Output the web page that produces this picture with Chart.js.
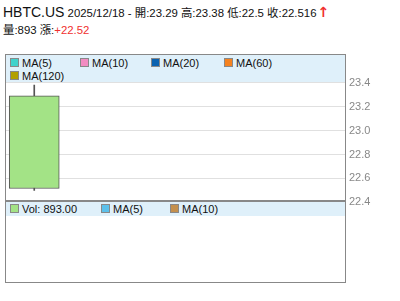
<!DOCTYPE html>
<html>
<head>
<meta charset="utf-8">
<script src="https://cdn.jsdelivr.net/npm/chart.js@4"></script>
<style>
    body { margin: 0; width: 400px; height: 301px; background: #fff; font-family: Arial, "Liberation Sans", "Noto Sans CJK TC", sans-serif; color: #111; position: relative; overflow: hidden; }
    #title { position: absolute; left: 3px; top: 4px; font-size: 11.4px; white-space: nowrap; }
    #title .sym { font-size: 14px; }
    #title2 { position: absolute; left: 3px; top: 21px; font-size: 11.4px; white-space: nowrap; }
    .red { color: #f03030; }
    .arrow { color: #f03030; font-weight: bold; font-size: 14px; font-family: "DejaVu Sans", sans-serif; margin-left: 1px; }
    #box { position: absolute; left: 5px; top: 54px; width: 339px; height: 227px; border: 1px solid #888; }
    #sep { position: absolute; left: 5px; top: 200px; width: 341px; height: 2px; background: #888; }
    #priceWrap { position: absolute; left: 6px; top: 46px; width: 394px; height: 167px; }
    .legend { position: absolute; left: 6px; width: 339px; background: #dff0fa; font-size: 11px; display: flex; flex-wrap: wrap; box-sizing: border-box; padding-left: 4px; }
    #priceLegend { top: 55px; height: 27px; padding-top: 1px; }
    #volLegend { top: 202px; height: 14px; }
    .item { display: flex; align-items: center; height: 13px; }
    .sw { width: 7px; height: 7px; border: 1px solid #888; margin-right: 3px; }
</style>
</head>
<body>
<div id="title"></div>
<div id="title2"></div>
<div id="priceWrap"><canvas id="price"></canvas></div>
<div id="box"></div>
<div id="sep"></div>
<div id="priceLegend" class="legend"></div>
<div id="volLegend" class="legend"></div>
<script>
// 数据
const symbol = 'HBTC.US';
const dates = ['2025/12/18', '', '', '', '', ''];
const openPrices = [23.29];
const highPrices = [23.38];
const lowPrices = [22.5];
const closePrices = [22.516];
const volumes = [893];
const changes = [22.52];
const yTicks = [22.4, 22.6, 22.8, 23, 23.2, 23.4];

const maNames = ['MA(5)', 'MA(10)', 'MA(20)', 'MA(60)', 'MA(120)'];
const maColors = ['#40d2cc', '#f28cc2', '#0a62b0', '#f5821f', '#b2a000'];
const maWidths = [70, 71, 73, 70, 80];
const volNames = ['Vol: ' + volumes[0].toFixed(2), 'MA(5)', 'MA(10)'];
const volColors = ['#a3e386', '#5cc0ea', '#c4904e'];
const volWidths = [91, 69, 70];

// 标题
document.getElementById('title').innerHTML =
    `<span class="sym">${symbol}</span> ${dates[0]} - 開:${openPrices[0]} 高:${highPrices[0]} 低:${lowPrices[0]} 收:${closePrices[0]}<span class="arrow">↑</span>`;
document.getElementById('title2').innerHTML =
    `量:${volumes[0]} 漲:<span class="red">+${changes[0]}</span>`;

// 图例
function buildLegend(id, names, colors, widths) {
    let el = document.getElementById(id);
    names.forEach((name, i) => {
        let item = document.createElement('div');
        item.className = 'item';
        item.style.width = widths[i] + 'px';
        item.innerHTML = `<span class="sw" style="background:${colors[i]}"></span><span>${name}</span>`;
        el.appendChild(item);
    });
}
buildLegend('priceLegend', maNames, maColors, maWidths);
buildLegend('volLegend', volNames, volColors, volWidths);

// K线
const wick = dates.map((d, i) => i < lowPrices.length ? [lowPrices[i], highPrices[i]] : null);
const body = dates.map((d, i) => i < openPrices.length ? [closePrices[i], openPrices[i]] : null);

new Chart(document.getElementById('price').getContext('2d'), {
    type: 'bar',
    data: {
        labels: dates,
        datasets: [
            { data: wick, backgroundColor: '#555', barThickness: 1, grouped: false, order: 1 },
            { data: body, backgroundColor: '#a3e386', borderColor: '#555', borderWidth: 1, borderSkipped: false, barThickness: 50, grouped: false, order: 0 }
        ]
    },
    options: {
        responsive: true,
        maintainAspectRatio: false,
        animation: false,
        layout: { padding: 0 },
        plugins: { legend: { display: false }, tooltip: { enabled: false } },
        scales: {
            x: { display: false },
            y: {
                position: 'right',
                min: 22.4,
                max: 23.617,
                afterBuildTicks: scale => { scale.ticks = yTicks.map(v => ({ value: v })); },
                afterFit: scale => { scale.width = 55; },
                grid: { color: '#e0e0e0', tickLength: 0 },
                border: { color: '#888' },
                ticks: { color: '#888', padding: 4, font: { family: 'Arial, "Liberation Sans"', size: 11 } }
            }
        }
    }
});
</script>
</body>
</html>
